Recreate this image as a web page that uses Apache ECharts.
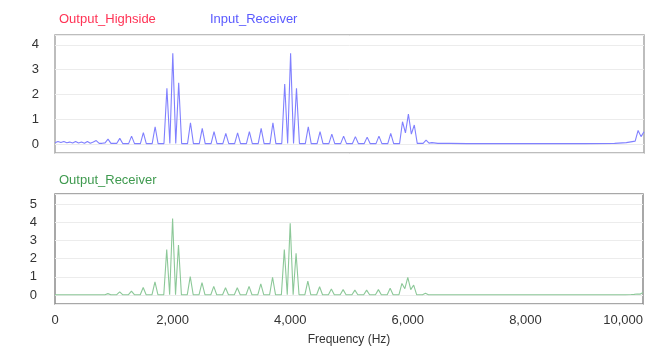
<!DOCTYPE html>
<html>
<head>
<meta charset="utf-8">
<script src="https://cdn.jsdelivr.net/npm/echarts@6/dist/echarts.min.js"></script>
<style>
html,body{margin:0;padding:0;background:#fff;}
#chart{width:646px;height:351px;}
</style>
</head>
<body>
<div id="chart"></div>
<script>
// Frequency samples (Hz)
const freqs = [
  0,50,100,150,200,250,300,350,400,450,500,550,600,650,700,750,800,850,900,950,
  1000,1050,1100,1150,1200,1250,1300,1350,1400,1450,1500,1550,1600,1650,1700,1750,1800,1850,1900,1950,
  2000,2050,2100,2150,2200,2250,2300,2350,2400,2450,2500,2550,2600,2650,2700,2750,2800,2850,2900,2950,
  3000,3050,3100,3150,3200,3250,3300,3350,3400,3450,3500,3550,3600,3650,3700,3750,3800,3850,3900,3950,
  4000,4050,4100,4150,4200,4250,4300,4350,4400,4450,4500,4550,4600,4650,4700,4750,4800,4850,4900,4950,
  5000,5050,5100,5150,5200,5250,5300,5350,5400,5450,5500,5550,5600,5650,5700,5750,5800,5850,5900,5950,
  6000,6050,6100,6150,6200,6250,6300,6350,6400,6500,6700,7000,7500,8000,8500,9000,9500,9700,9800,9850,
  9900,9950,10000
];
// Input_Receiver magnitude (top panel)
const inputReceiver = [
  0.05,0.10,0.06,0.10,0.05,0.08,0.04,0.10,0.04,0.08,0.03,0.10,0.03,0.08,0.14,0.03,0.03,0.05,0.20,0.03,
  0.03,0.03,0.23,0.02,0.02,0.02,0.32,0.02,0.02,0.02,0.46,0.02,0.02,0.02,0.70,0.02,0.02,0.02,2.25,0.02,
  3.66,0.02,2.47,0.02,0.02,0.02,0.86,0.02,0.02,0.02,0.63,0.02,0.02,0.02,0.50,0.02,0.02,0.02,0.43,0.02,
  0.02,0.02,0.45,0.02,0.02,0.02,0.50,0.02,0.02,0.02,0.63,0.02,0.02,0.02,0.86,0.02,0.02,0.02,2.42,0.02,
  3.66,0.02,2.25,0.02,0.02,0.02,0.70,0.02,0.02,0.02,0.50,0.02,0.02,0.02,0.40,0.02,0.02,0.02,0.32,0.02,
  0.02,0.02,0.30,0.02,0.02,0.02,0.28,0.02,0.02,0.02,0.32,0.02,0.02,0.02,0.43,0.02,0.02,0.02,0.90,0.45,
  1.21,0.40,0.77,0.03,0.03,0.03,0.16,0.04,0.06,0.03,0.03,0.02,0.02,0.02,0.02,0.02,0.03,0.06,0.10,0.12,
  0.55,0.30,0.50
];
// Output_Receiver magnitude (bottom panel)
const outputReceiver = [
  0.02,0.02,0.02,0.02,0.02,0.02,0.02,0.02,0.02,0.02,0.02,0.02,0.02,0.02,0.02,0.02,0.02,0.02,0.08,0.02,
  0.02,0.02,0.18,0.02,0.02,0.02,0.22,0.02,0.02,0.02,0.42,0.02,0.02,0.02,0.72,0.02,0.02,0.02,2.50,0.02,
  4.20,0.02,2.75,0.02,0.02,0.02,1.02,0.02,0.02,0.02,0.68,0.02,0.02,0.02,0.48,0.02,0.02,0.02,0.40,0.02,
  0.02,0.02,0.40,0.02,0.02,0.02,0.48,0.02,0.02,0.02,0.62,0.02,0.02,0.02,0.98,0.02,0.02,0.02,2.50,0.02,
  3.94,0.02,2.30,0.02,0.02,0.02,0.77,0.02,0.02,0.02,0.46,0.02,0.02,0.02,0.33,0.02,0.02,0.02,0.30,0.02,
  0.02,0.02,0.27,0.02,0.02,0.02,0.27,0.02,0.02,0.02,0.30,0.02,0.02,0.02,0.37,0.02,0.02,0.02,0.64,0.35,
  0.97,0.30,0.55,0.02,0.02,0.02,0.10,0.02,0.02,0.02,0.02,0.02,0.02,0.02,0.02,0.02,0.02,0.02,0.03,0.04,
  0.06,0.05,0.15
];
const xTicks = [0,2000,4000,6000,8000,10000];
const topYTicks = [0,1,2,3,4];
const bottomYTicks = [0,1,2,3,4,5];

const FONT = 'Liberation Sans, Arial, sans-serif';
function pairs(xs, ys){ return xs.map((x,i)=>[x, ys[i]]); }
function intLabel(list){
  return function(v){
    const r = Math.round(v);
    return (Math.abs(v-r) < 1e-6 && list.indexOf(r) >= 0) ? String(r) : '';
  };
}

const chart = echarts.init(document.getElementById('chart'), null, {renderer:'canvas'});
chart.setOption({
  animation:false,
  backgroundColor:'#ffffff',
  title:[
    {text:'Output_Highside', left:54, top:8, textStyle:{color:'#ff3355', fontSize:13, fontWeight:'normal', fontFamily:FONT}},
    {text:'Input_Receiver', left:205, top:8, textStyle:{color:'#5a5aff', fontSize:13, fontWeight:'normal', fontFamily:FONT}},
    {text:'Output_Receiver', left:54, top:169, textStyle:{color:'#3f9a4f', fontSize:13, fontWeight:'normal', fontFamily:FONT}}
  ],
  grid:[
    {left:55, right:2, top:35, height:118, show:true, borderColor:'#a8a8a8', borderWidth:1.5, backgroundColor:'transparent'},
    {left:55, right:2, top:194, height:110, show:true, borderColor:'#8c8c8c', borderWidth:1.5, backgroundColor:'transparent'}
  ],
  xAxis:[
    {type:'value', gridIndex:0, min:0, max:10000, interval:2000,
     axisLine:{show:false}, axisTick:{show:false}, axisLabel:{show:false}, splitLine:{show:false}},
    {type:'value', gridIndex:1, min:0, max:10000, interval:2000,
     axisLine:{show:false}, axisTick:{show:false}, splitLine:{show:false},
     axisLabel:{show:true, color:'#333', fontSize:13, fontFamily:FONT, margin:10, alignMaxLabel:'right',
       formatter:function(v){ return xTicks.indexOf(v)>=0 ? v.toLocaleString('en-US') : ''; }},
     name:'Frequency (Hz)', nameLocation:'middle', nameGap:30,
     nameTextStyle:{color:'#333', fontSize:12, fontFamily:FONT}}
  ],
  yAxis:[
    {type:'value', gridIndex:0, min:-0.36, max:4.4, splitNumber:5,
     axisLine:{show:false}, axisTick:{show:false},
     splitLine:{show:true, lineStyle:{color:'#ececec', width:1}},
     axisLabel:{color:'#333', fontSize:13, fontFamily:FONT, margin:16, formatter:intLabel(topYTicks)}},
    {type:'value', gridIndex:1, min:-0.49, max:5.55, splitNumber:6,
     axisLine:{show:false}, axisTick:{show:false},
     splitLine:{show:true, lineStyle:{color:'#ececec', width:1}},
     axisLabel:{color:'#333', fontSize:13, fontFamily:FONT, margin:18, formatter:intLabel(bottomYTicks)}}
  ],
  series:[
    {name:'Input_Receiver', type:'line', xAxisIndex:0, yAxisIndex:0, data:pairs(freqs, inputReceiver),
     showSymbol:false, symbol:'none', lineStyle:{color:'#8080ff', width:1.1}},
    {name:'Output_Receiver', type:'line', xAxisIndex:1, yAxisIndex:1, data:pairs(freqs, outputReceiver),
     showSymbol:false, symbol:'none', lineStyle:{color:'#8cc898', width:1.1}}
  ]
});
</script>
</body>
</html>
